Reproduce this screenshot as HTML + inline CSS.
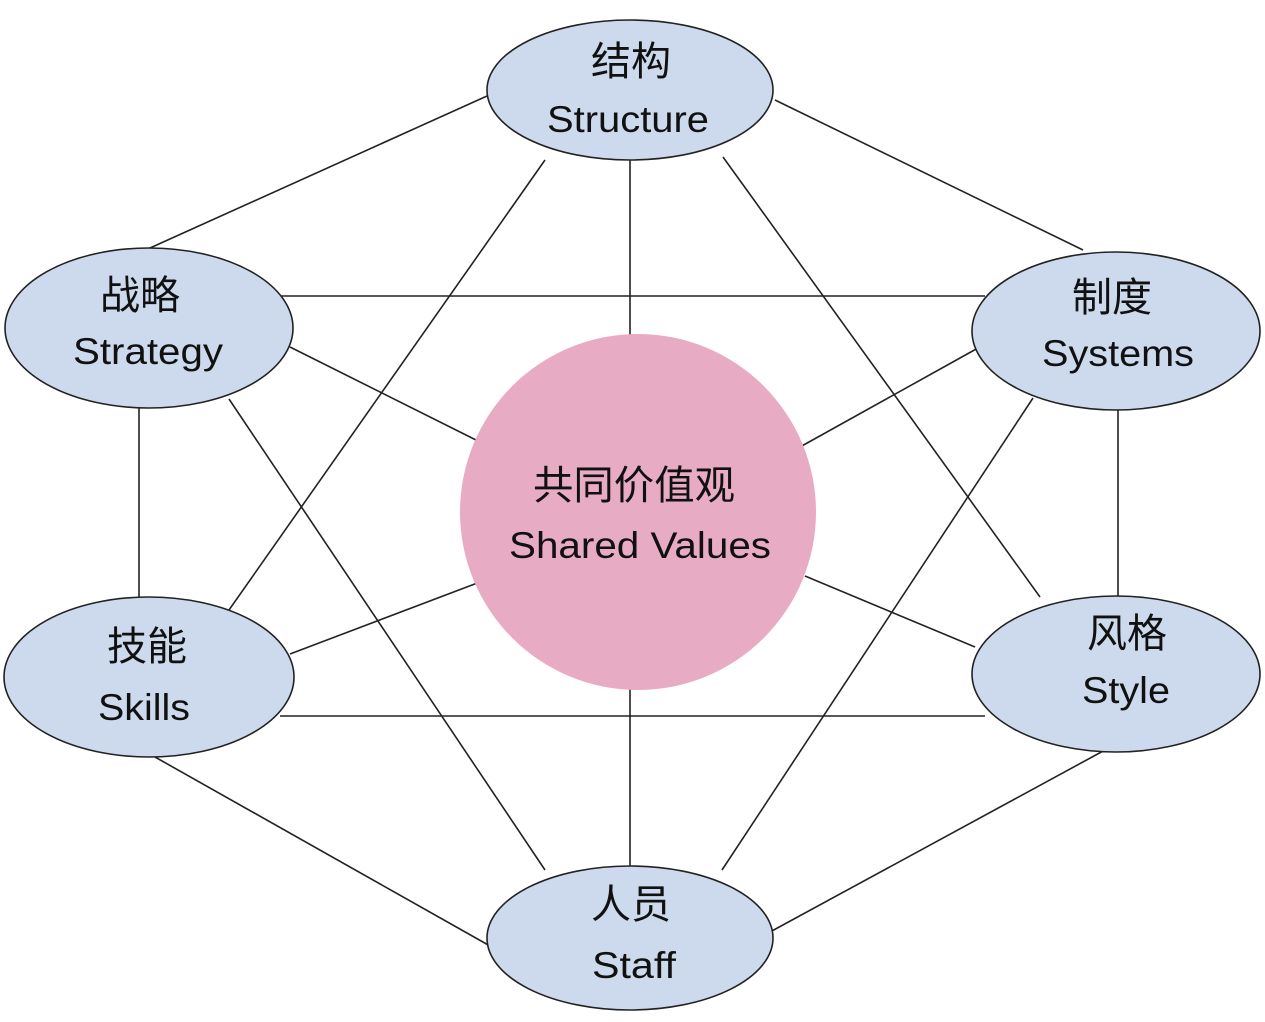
<!DOCTYPE html>
<html><head><meta charset="utf-8"><style>
html,body{margin:0;padding:0;background:#fff;}
svg{display:block;}
text{font-family:"Liberation Sans","Noto Sans CJK SC",sans-serif;fill:#111;text-anchor:middle;}
.cn{font-size:40px;}
.en{font-size:37px;}
</style></head><body>
<svg width="1265" height="1022" viewBox="0 0 1265 1022" xmlns="http://www.w3.org/2000/svg">
<g stroke="#222" stroke-width="1.6" fill="none">
<line x1="487" y1="96" x2="150" y2="248"/>
<line x1="775" y1="100" x2="1083" y2="250"/>
<line x1="545" y1="160" x2="229" y2="610"/>
<line x1="723" y1="157" x2="1040" y2="597"/>
<line x1="630" y1="150" x2="630" y2="340"/>
<line x1="280" y1="296" x2="985" y2="296"/>
<line x1="139" y1="400" x2="139" y2="600"/>
<line x1="229" y1="399" x2="545" y2="870"/>
<line x1="290" y1="347" x2="480" y2="442"/>
<line x1="1118" y1="400" x2="1118" y2="600"/>
<line x1="1033" y1="398" x2="722" y2="870"/>
<line x1="978" y1="348" x2="800" y2="447"/>
<line x1="280" y1="716" x2="985" y2="716"/>
<line x1="155" y1="757" x2="490" y2="946"/>
<line x1="290" y1="654" x2="480" y2="582"/>
<line x1="1105" y1="750" x2="770" y2="932"/>
<line x1="975" y1="647" x2="805" y2="576"/>
<line x1="630" y1="680" x2="630" y2="875"/>
</g>
<circle cx="638" cy="512" r="178" fill="#e8abc4"/>
<g fill="#cddaee" stroke="#222" stroke-width="1.6">
<ellipse cx="630" cy="90" rx="143" ry="70"/>
<ellipse cx="149" cy="328" rx="144" ry="80"/>
<ellipse cx="1116" cy="331" rx="144" ry="79"/>
<ellipse cx="149" cy="677" rx="145" ry="80"/>
<ellipse cx="1116" cy="674" rx="144" ry="78"/>
<ellipse cx="630" cy="938" rx="143" ry="72"/>
</g>
<text class="cn" x="631" y="75">结构</text>
<text class="en" x="628" y="132" textLength="162" lengthAdjust="spacingAndGlyphs">Structure</text>
<text class="cn" x="140" y="309">战略</text>
<text class="en" x="148" y="364" textLength="150" lengthAdjust="spacingAndGlyphs">Strategy</text>
<text class="cn" x="1112" y="311">制度</text>
<text class="en" x="1118" y="366" textLength="152" lengthAdjust="spacingAndGlyphs">Systems</text>
<text class="cn" x="147" y="660">技能</text>
<text class="en" x="144" y="720" textLength="92" lengthAdjust="spacingAndGlyphs">Skills</text>
<text class="cn" x="1127" y="647">风格</text>
<text class="en" x="1126" y="703" textLength="88" lengthAdjust="spacingAndGlyphs">Style</text>
<text class="cn" x="631" y="918">人员</text>
<text class="en" x="634" y="978" textLength="84" lengthAdjust="spacingAndGlyphs">Staff</text>
<text class="cn" x="634" y="499" textLength="202" lengthAdjust="spacingAndGlyphs">共同价值观</text>
<text class="en" x="640" y="558" textLength="262" lengthAdjust="spacingAndGlyphs">Shared Values</text>
</svg>
</body></html>
